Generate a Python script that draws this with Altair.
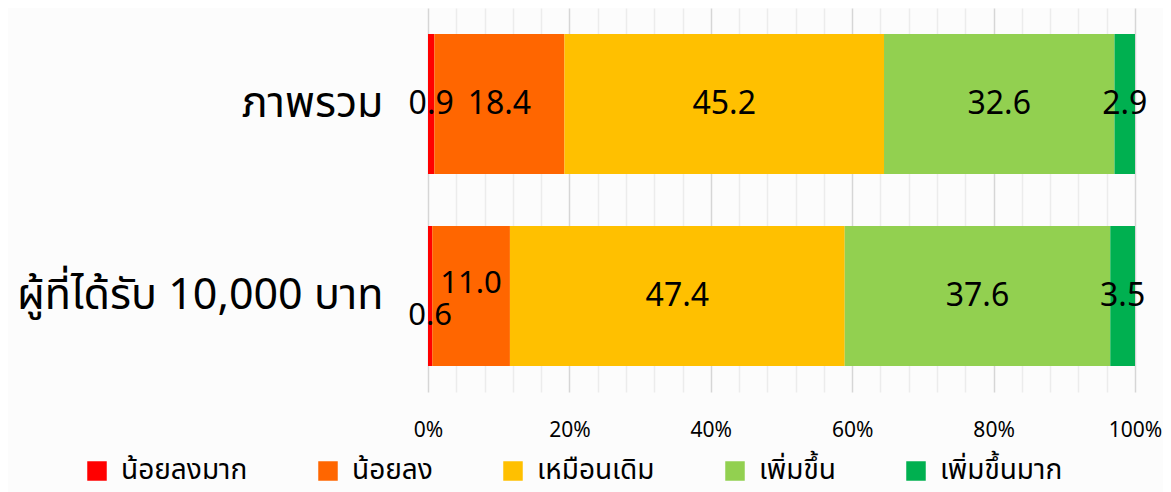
import altair as alt
import pandas as pd

groups = ["ภาพรวม", "ผู้ที่ได้รับ 10,000 บาท"]
cats = ["น้อยลงมาก", "น้อยลง", "เหมือนเดิม", "เพิ่มขึ้น", "เพิ่มขึ้นมาก"]
colors = ["#FF0000", "#FF6600", "#FFC000", "#92D050", "#00B050"]
overall = [0.9, 18.4, 45.2, 32.6, 2.9]
recipients = [0.6, 11.0, 47.4, 37.6, 3.5]

rows = []
for g, vals in zip(groups, [overall, recipients]):
    for i, (c, v) in enumerate(zip(cats, vals)):
        rows.append({"group": g, "cat": c, "value": v, "idx": i})
df = pd.DataFrame(rows)

FONT = "Noto Sans Thai, Noto Sans, sans-serif"
major = "abs(datum.value*5 - round(datum.value*5)) < 0.001"
tick_vals = [round(i * 0.04, 4) for i in range(26)]

xaxis = alt.Axis(values=tick_vals, domain=False, ticks=False,
                 labelExpr=f"{major} ? format(datum.value, '.0%') : ''",
                 labelFontSize=21, labelFont=FONT, labelColor="black",
                 labelPadding=27, labelFlush=False, labelOverlap=False,
                 gridColor={"condition": {"test": major, "value": "#d6d6d6"}, "value": "#ececec"},
                 gridWidth=1.5)
xscale = alt.Scale(domain=[0, 1], nice=False)

yaxis = alt.Axis(domain=False, ticks=False, labelFontSize=43, labelFont=FONT,
                 labelColor="black", labelPadding=45, labelLimit=600)
yscale = alt.Scale(paddingInner=0.271, paddingOuter=0.1355)

bars = alt.Chart(df).mark_bar().encode(
    y=alt.Y("group:N", sort=groups, title=None, scale=yscale, axis=yaxis),
    x=alt.X("value:Q", stack="normalize", title=None, scale=xscale, axis=xaxis),
    color=alt.Color("cat:N", scale=alt.Scale(domain=cats, range=colors),
                    legend=alt.Legend(title=None, orient="none", legendX=-345, legendY=449,
                                      direction="horizontal", symbolType="square",
                                      symbolSize=380, symbolStrokeWidth=0,
                                      labelFontSize=28, labelFont=FONT, labelColor="black",
                                      columnPadding=66, labelOffset=10, labelLimit=400)),
    order=alt.Order("idx:Q"),
)

base_text = alt.Chart(df).transform_joinaggregate(
    total="sum(value)", groupby=["group"]
).transform_window(
    cum="sum(value)", sort=[alt.SortField("idx")], groupby=["group"]
).transform_calculate(
    mid="(datum.cum - datum.value/2)/datum.total",
    special="datum.group == '" + groups[1] + "' && datum.idx < 2 ? datum.idx + 1 : 0",
)

tenc = dict(
    x=alt.X("mid:Q", title=None, scale=xscale, axis=xaxis),
    y=alt.Y("group:N", sort=groups, title=None, scale=yscale, axis=yaxis),
    text=alt.Text("value:Q", format=".1f"),
)

t_main = base_text.transform_filter("datum.special == 0").mark_text(
    fontSize=32, font=FONT, color="black").encode(**tenc)
t_low = base_text.transform_filter("datum.special == 1").mark_text(
    fontSize=31, font=FONT, color="black", dy=20).encode(**tenc)
t_high = base_text.transform_filter("datum.special == 2").mark_text(
    fontSize=31, font=FONT, color="black", dy=-12).encode(**tenc)

chart = alt.layer(bars, t_main, t_low, t_high).properties(
    width=707, height=384,
    autosize=alt.AutoSizeParams(type="none"),
    padding={"left": 420, "top": 0, "right": 28, "bottom": 100},
    background="#fcfcfc",
).configure_view(stroke=None).configure_axisX(labelOverlap=False)

chart.save("out.html", embed_options={"renderer": "svg", "actions": False})
